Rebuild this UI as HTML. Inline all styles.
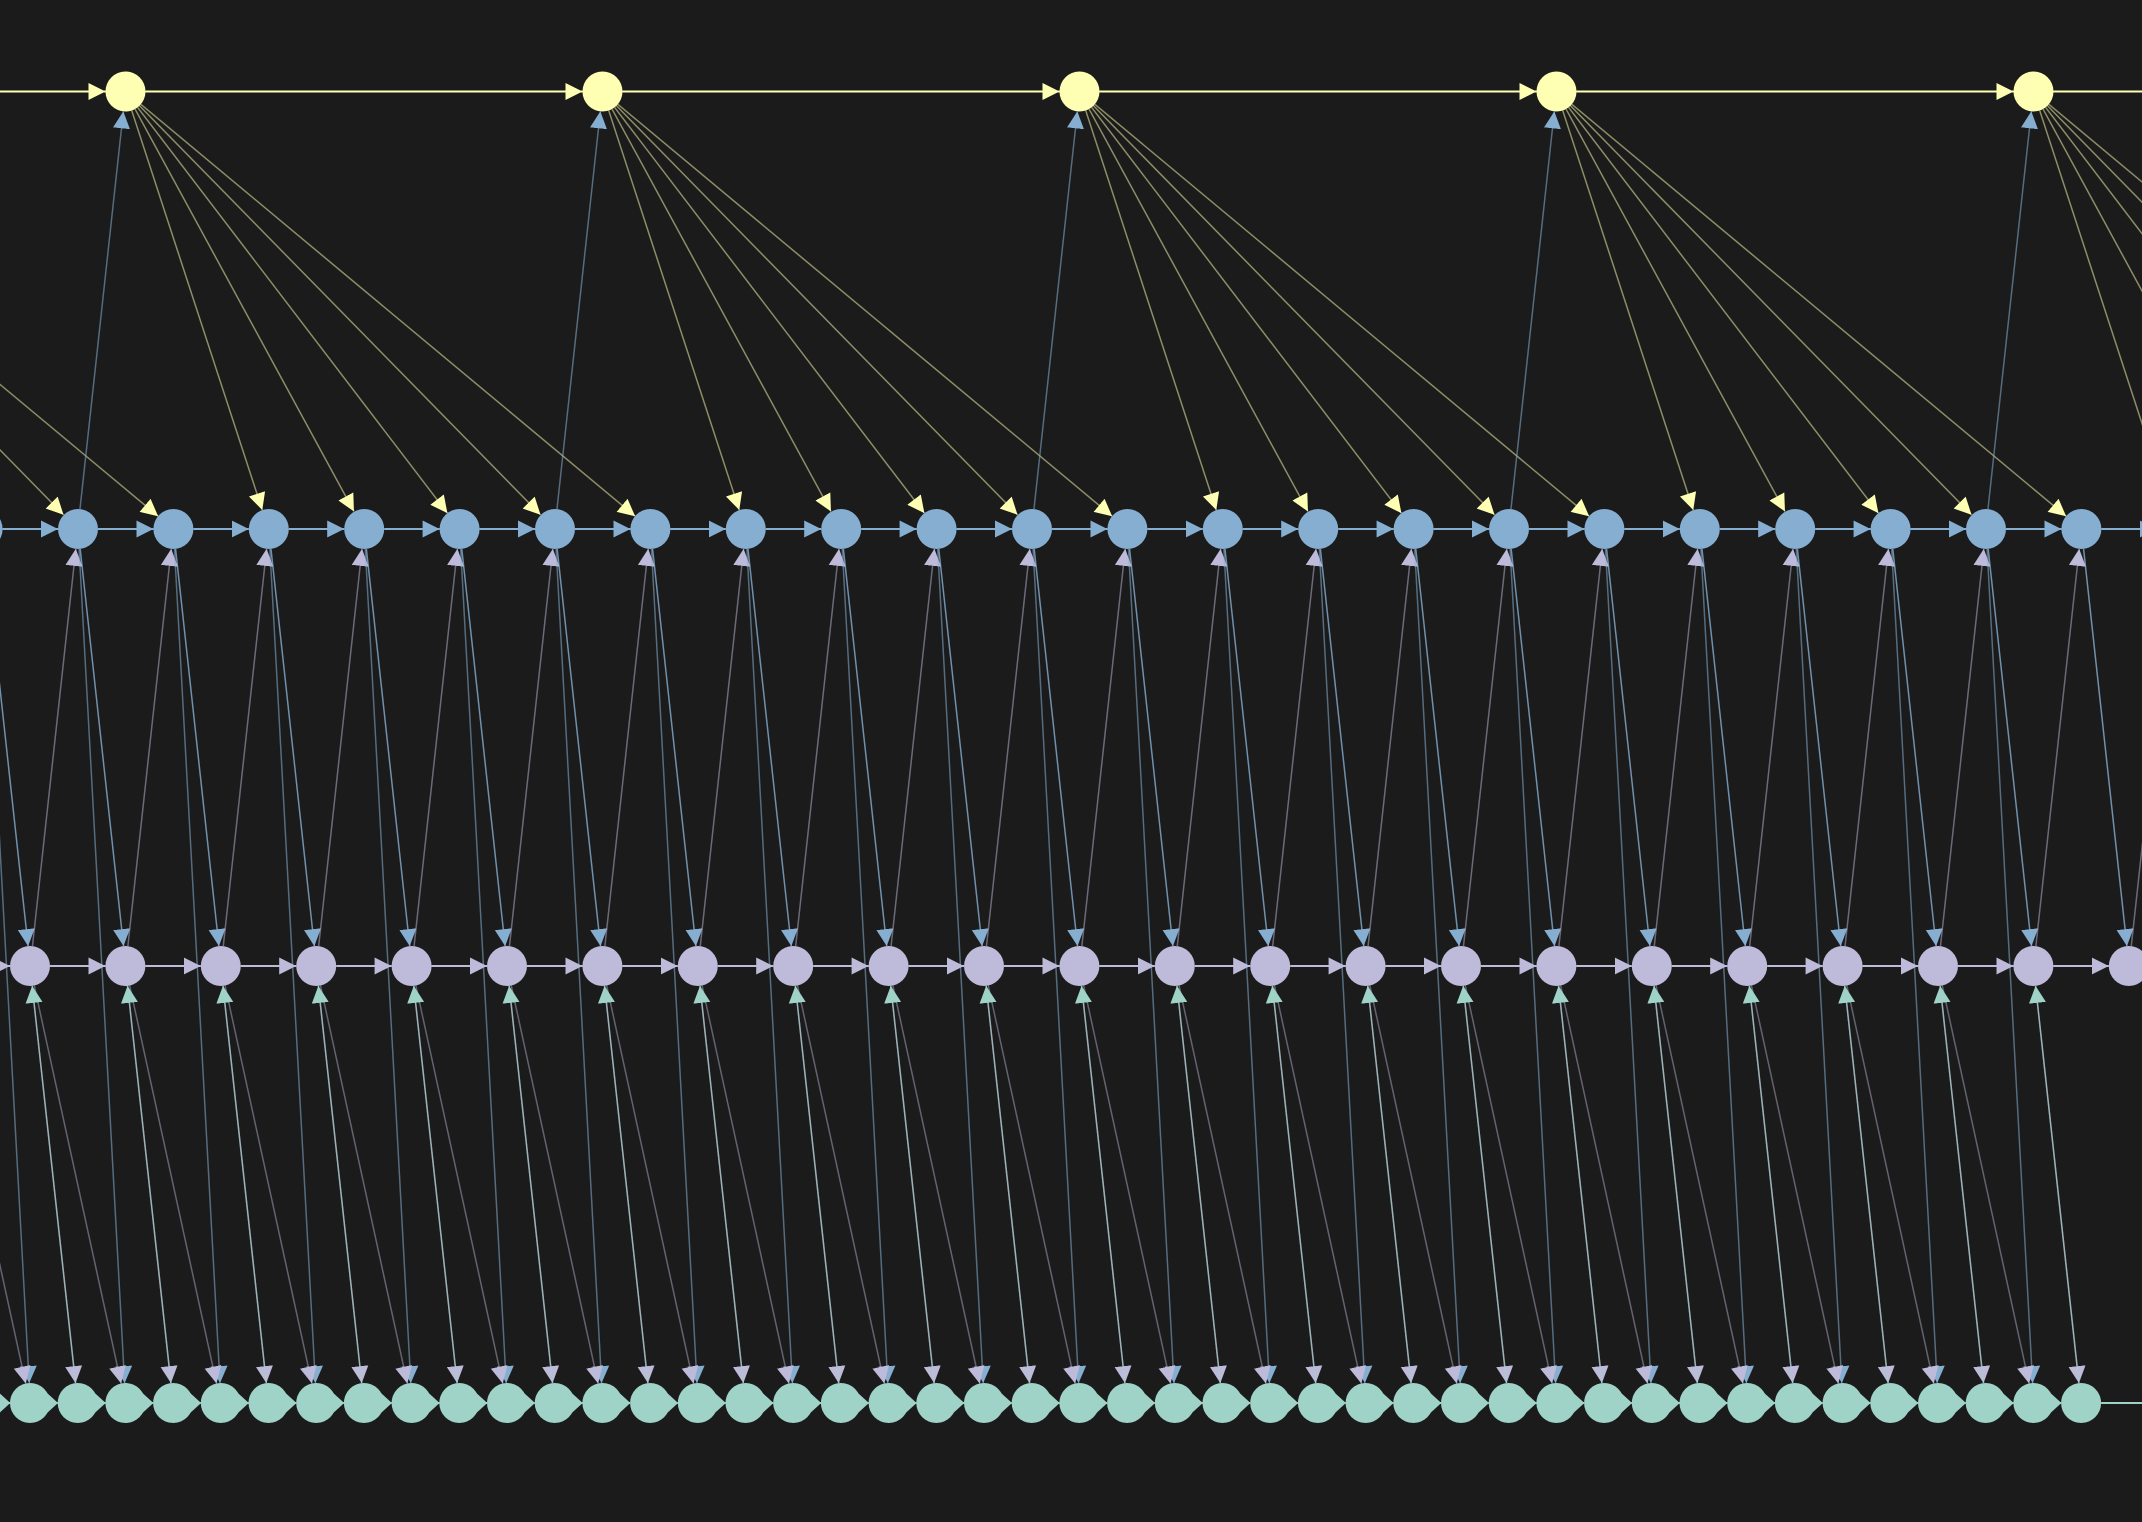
<!DOCTYPE html>
<html><head><meta charset="utf-8"><style>
html,body{margin:0;padding:0;background:#1b1b1b;}
svg{display:block;}
</style></head><body>
<svg id="s" width="2142" height="1522" viewBox="0 0 2142 1522" xmlns="http://www.w3.org/2000/svg">
<rect width="2142" height="1522" fill="#1b1b1b"/>
<defs>
<marker id="mY" markerUnits="userSpaceOnUse" markerWidth="20" markerHeight="20" refX="17" refY="8.5" orient="auto"><path d="M0,0L17,8.5L0,17z" fill="#ffffb3"/></marker>
<marker id="mB" markerUnits="userSpaceOnUse" markerWidth="20" markerHeight="20" refX="17" refY="8.5" orient="auto"><path d="M0,0L17,8.5L0,17z" fill="#86aed1"/></marker>
<marker id="mL" markerUnits="userSpaceOnUse" markerWidth="20" markerHeight="20" refX="17" refY="8.5" orient="auto"><path d="M0,0L17,8.5L0,17z" fill="#bebada"/></marker>
<marker id="mT" markerUnits="userSpaceOnUse" markerWidth="20" markerHeight="20" refX="17" refY="8.5" orient="auto"><path d="M0,0L17,8.5L0,17z" fill="#9fd3c7"/></marker>
</defs>
<g id="e"></g><g id="n"></g>
</svg>
<script>
var NS="http://www.w3.org/2000/svg",E=document.getElementById('e'),N=document.getElementById('n');
var S=95.4,R=20;
var yY=91.5,yB=529,yL=966,yT=1403;
function line(x1,y1,x2,y2,col,op,w,m,r1,r2){
 var dx=x2-x1,dy=y2-y1,d=Math.sqrt(dx*dx+dy*dy);
 var ux=dx/d,uy=dy/d;
 var l=document.createElementNS(NS,'line');
 l.setAttribute('x1',x1+ux*r1);l.setAttribute('y1',y1+uy*r1);
 l.setAttribute('x2',x2-ux*r2);l.setAttribute('y2',y2-uy*r2);
 l.setAttribute('stroke',col);l.setAttribute('stroke-opacity',op);l.setAttribute('stroke-width',w);
 if(m)l.setAttribute('marker-end','url(#'+m+')');
 E.appendChild(l);
}
function circ(x,y,c){var e=document.createElementNS(NS,'circle');e.setAttribute('cx',x);e.setAttribute('cy',y);e.setAttribute('r',R);e.setAttribute('fill',c);N.appendChild(e);}
function tear(x,y,c){var p=document.createElementNS(NS,'path');p.setAttribute('d','M'+(x+8)+','+(y-18.3)+'L'+(x+28)+','+y+'L'+(x+8)+','+(y+18.3)+'z');p.setAttribute('fill',c);N.appendChild(p);}
var Y=[],B=[],L=[],T=[];
for(var k=-2;k<=5;k++)Y.push(125.5+477*k);
for(var k=-6;k<=23;k++)B.push(78+S*k);
for(var k=-6;k<=23;k++)L.push(30+S*k);
for(var k=-12;k<=43;k++)T.push(30+S/2*k);
function hasT(x){return x<=2090;}
for(var i=0;i<Y.length-1;i++)line(Y[i],yY,Y[i+1],yY,'#ffffb3',1,2,'mY',R,R);
line(Y[Y.length-1],yY,2400,yY,'#ffffb3',1,2,null,R,0);
Y.forEach(function(y){[143,238,334,429,525].forEach(function(o){line(y,yY,y+o,yB,'#ffffb3',0.5,1.5,'mY',R,R);});
 line(y-47.7,yB,y,yY,'#86aed1',0.55,1.5,'mB',R,R);});
for(var i=0;i<B.length-1;i++)line(B[i],yB,B[i+1],yB,'#86aed1',1,2,'mB',R,R);
B.forEach(function(b){line(b,yB,b+47.7,yL,'#86aed1',0.8,1.5,'mB',R,R);
 line(b-47.7,yL,b,yB,'#bebada',0.5,1.5,'mL',R,R);
 if(hasT(b+47.7))line(b,yB,b+47.7,yT,'#86aed1',0.55,1.5,'mB',R,R);});
for(var i=0;i<L.length-1;i++)line(L[i],yL,L[i+1],yL,'#bebada',1,2,'mL',R,R);
L.forEach(function(l){
 if(hasT(l+47.7))line(l,yL,l+47.7,yT,'#bebada',0.75,1.5,'mL',R,R);
 if(hasT(l+S))line(l,yL,l+S,yT,'#bebada',0.45,1.5,'mL',R,R);
 if(hasT(l+47.7))line(l+47.7,yT,l,yL,'#9fd3c7',0.5,1.5,'mT',R,R);});
for(var i=0;i<T.length-1;i++)line(T[i],yT,T[i+1],yT,'#9fd3c7',1,2,'mT',R,R);
line(T[T.length-1],yT,2400,yT,'#9fd3c7',1,2,null,R,0);
Y.forEach(function(x){circ(x,yY,'#ffffb3');});
B.forEach(function(x){circ(x,yB,'#86aed1');});
L.forEach(function(x){circ(x,yL,'#bebada');});
T.forEach(function(x,i){if(i<T.length-1)tear(x,yT,'#9fd3c7');circ(x,yT,'#9fd3c7');});
</script>
</body></html>
